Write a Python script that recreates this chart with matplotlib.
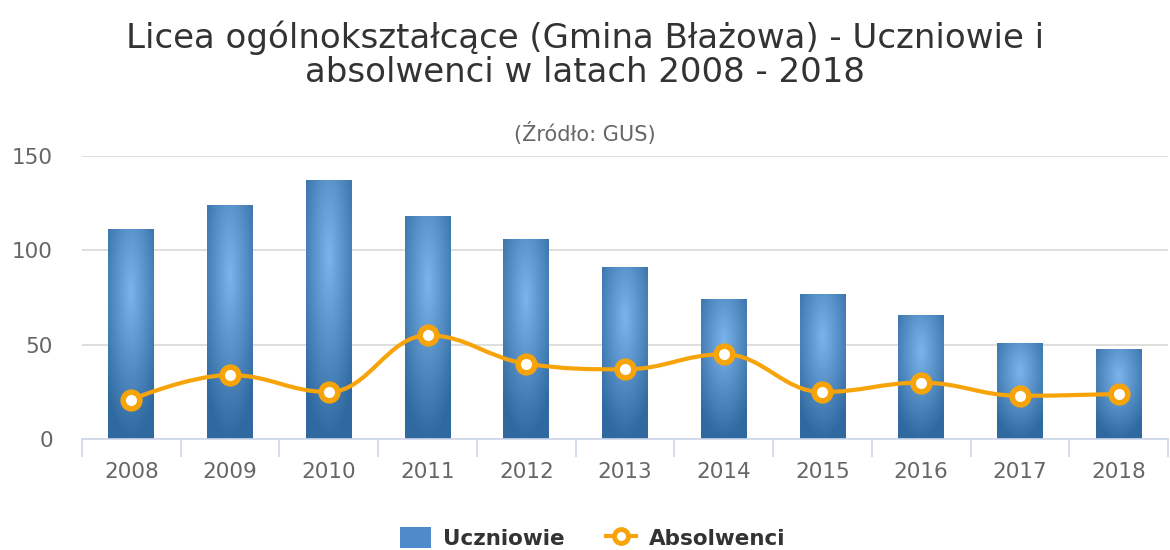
import matplotlib
matplotlib.use("Agg")
import matplotlib.pyplot as plt
from matplotlib.path import Path
from matplotlib.patches import PathPatch, Patch
from matplotlib.lines import Line2D
import numpy as np

years = ["2008", "2009", "2010", "2011", "2012", "2013",
         "2014", "2015", "2016", "2017", "2018"]
uczniowie = [111, 124, 137, 118, 106, 91, 74, 77, 66, 51, 48]
absolwenci = [21, 34, 25, 55, 40, 37, 45, 25, 30, 23, 24]

title = "Licea ogólnokształcące (Gmina Błażowa) - Uczniowie i\nabsolwenci w latach 2008 - 2018"
subtitle = "(Źródło: GUS)"

plt.rcParams['font.family'] = ['DejaVu Sans']

BAR_LIGHT = np.array([124, 181, 236]) / 255.0
BAR_DARK = np.array([48, 105, 160]) / 255.0
ORANGE = "#f7a30a"


def spline_path(xs, ys, smoothing=1.5):
    # highcharts-like spline control points
    denom = smoothing + 1
    n = len(xs)
    right = [(xs[0], ys[0])] * n
    verts = [(xs[0], ys[0])]
    codes = [Path.MOVETO]
    for i in range(1, n):
        x, y = xs[i], ys[i]
        lx, ly = x, y
        if i < n - 1:
            px, py = xs[i - 1], ys[i - 1]
            nx, ny = xs[i + 1], ys[i + 1]
            lx = (smoothing * x + px) / denom
            ly = (smoothing * y + py) / denom
            rx = (smoothing * x + nx) / denom
            ry = (smoothing * y + ny) / denom
            corr = 0
            if rx != lx:
                corr = (ry - ly) * (rx - x) / (rx - lx) + y - ry
            ly += corr
            ry += corr
            if ly > py and ly > y:
                ly = max(py, y)
                ry = 2 * y - ly
            elif ly < py and ly < y:
                ly = min(py, y)
                ry = 2 * y - ly
            if ry > ny and ry > y:
                ry = max(ny, y)
                ly = 2 * y - ry
            elif ry < ny and ry < y:
                ry = min(ny, y)
                ly = 2 * y - ry
            right[i] = (rx, ry)
        else:
            right[i] = (x, y)
        prev = right[i - 1] if i > 1 else (xs[0], ys[0])
        verts += [prev, (lx, ly), (x, y)]
        codes += [Path.CURVE4] * 3
    return Path(verts, codes)


fig = plt.figure(figsize=(11.7, 5.5), dpi=100)
ax = fig.add_axes([82 / 1170, 1 - 439.3 / 550, 1086 / 1170, (439.3 - 155.7) / 550])

x = np.arange(len(years))
width = 0.465
bars = ax.bar(x, uczniowie, width, color="none", zorder=2)

# radial gradient fill for each bar
H, W = 200, 60
u = (np.arange(W) + 0.5) / W
v = (np.arange(H) + 0.5) / H
U, V = np.meshgrid(u, v)
d = np.clip(np.sqrt(((U - 0.5) / 0.7) ** 2 + ((V - 0.3) / 0.7) ** 2), 0, 1)
grad = BAR_LIGHT[None, None, :] * (1 - d[..., None]) + BAR_DARK[None, None, :] * d[..., None]
for b in bars:
    x0 = b.get_x()
    im = ax.imshow(grad, extent=[x0, x0 + b.get_width(), 0, b.get_height()],
                   origin="upper", aspect="auto", zorder=2, interpolation="bilinear")
    im.set_clip_path(b)

ax.add_patch(PathPatch(spline_path(list(x), absolwenci), facecolor="none",
                       edgecolor=ORANGE, lw=3, zorder=3, capstyle="round"))
ax.plot(x, absolwenci, linestyle="none", marker="o", markersize=12,
        markerfacecolor="white", markeredgecolor=ORANGE, markeredgewidth=4, zorder=4)

ax.set_xlim(-0.5, len(years) - 0.5)
ax.set_ylim(0, 150)
ax.set_yticks([0, 50, 100, 150])
ax.yaxis.grid(True, color="#d8d8d8", lw=1.2)
ax.set_axisbelow(True)
for s in ["top", "right", "left"]:
    ax.spines[s].set_visible(False)
ax.spines["bottom"].set_color("#ccd6eb")
ax.spines["bottom"].set_linewidth(1.2)
ax.spines["bottom"].set_zorder(5)

ax.set_xticks(x)
ax.set_xticklabels(years)
ax.set_xticks(np.arange(-0.5, len(years)), minor=True)
ax.tick_params(axis="x", which="major", length=0, pad=16, labelsize=15.5, labelcolor="#666666")
ax.tick_params(axis="x", which="minor", length=13, width=1.2, color="#ccd6eb")
ax.tick_params(axis="y", length=0, pad=21, labelsize=15.5, labelcolor="#666666")

fig.text(0.5, 1 - 55 / 550, title, ha="center", va="center", fontsize=24.5,
         color="#333333", linespacing=1.05)
fig.text(0.5, 1 - 133 / 550, subtitle, ha="center", va="center", fontsize=15,
         color="#666666")

handles = [Patch(facecolor="#4f8bca", edgecolor="none"),
           Line2D([0], [0], color=ORANGE, lw=3, marker="o", markersize=10,
                  markerfacecolor="white", markeredgecolor=ORANGE, markeredgewidth=3.5)]
leg = fig.legend(handles, ["Uczniowie", "Absolwenci"], loc="center",
                 bbox_to_anchor=(0.5 + 8 / 1170, 1 - 538 / 550), ncol=2, frameon=False,
                 prop={"weight": "bold", "size": 15.5}, handlelength=1.4,
                 handleheight=1.1, columnspacing=1.9, handletextpad=0.6)
for t in leg.get_texts():
    t.set_color("#333333")

fig.savefig("out.png", dpi=100)
